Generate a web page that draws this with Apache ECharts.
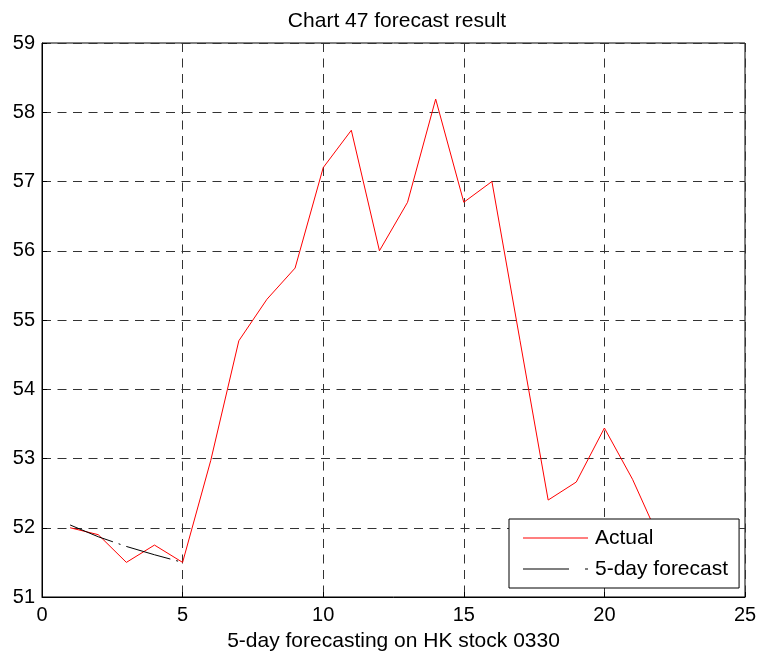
<!DOCTYPE html>
<html>
<head>
<meta charset="utf-8">
<script src="https://cdn.jsdelivr.net/npm/echarts@6/dist/echarts.min.js"></script>
<style>html,body{margin:0;padding:0;background:#fff}#c{width:761px;height:661px}</style>
</head>
<body>
<div id="c"></div>
<script>
const actualX = [1,2,3,4,5,6,7,8,9,10,11,12,13,14,15,16,17,18,19,20,21,22];
const actualY = [52.0,51.9,51.5,51.75,51.5,52.97,54.7,55.3,55.75,57.2,57.74,56.0,56.7,58.19,56.7,57.0,54.7,52.4,52.66,53.44,52.7,51.8];
const forecastX = [1,2,3,4,5];
const forecastY = [52.04,51.87,51.73,51.61,51.5];
const xTicks = {min:0, max:25, interval:5};
const yTicks = {min:51, max:59, interval:1};

const font = 'Liberation Sans, Arial, sans-serif';
const chart = echarts.init(document.getElementById('c'));
chart.setOption({
  animation:false,
  backgroundColor:'#fff',
  title:{text:'Chart 47 forecast result', left:392, textAlign:'center', top:6,
    textStyle:{fontFamily:font, fontSize:21, fontWeight:'normal', color:'#000'}},
  grid:{left:42, right:16, top:43, bottom:64, show:true, borderColor:'#000', borderWidth:1, backgroundColor:'transparent'},
  legend:{orient:'vertical', left:509, top:519, padding:[8,11,8,14], itemGap:9,
    itemWidth:65, itemHeight:1, borderColor:'#000', borderWidth:1, backgroundColor:'#fff',
    textStyle:{fontFamily:font, fontSize:21, color:'#000', lineHeight:22, padding:[0,0,0,2]},
    data:[
      {name:'Actual', icon:'path://M0,0h65v1h-65z'},
      {name:'5-day forecast', icon:'path://M0,0h46v1h-46zM62,0h3v1h-3z'}
    ]},
  xAxis:{type:'value', min:xTicks.min, max:xTicks.max, interval:xTicks.interval,
    name:'5-day forecasting on HK stock 0330', nameLocation:'middle', nameGap:34,
    nameTextStyle:{fontFamily:font, fontSize:21, color:'#000'},
    axisLine:{show:true, lineStyle:{color:'#000', width:1}},
    axisTick:{show:true, inside:true, length:5, lineStyle:{color:'#000'}},
    axisLabel:{fontFamily:font, fontSize:20, color:'#000', margin:8},
    splitLine:{show:true, lineStyle:{color:'#333', type:[9,6.5], width:1}}},
  yAxis:{type:'value', min:yTicks.min, max:yTicks.max, interval:yTicks.interval,
    axisLine:{show:true, lineStyle:{color:'#000', width:1}},
    axisTick:{show:true, inside:true, length:5, lineStyle:{color:'#000'}},
    axisLabel:{fontFamily:font, fontSize:20, color:'#000', margin:7},
    splitLine:{show:true, lineStyle:{color:'#333', type:[9,6.5], width:1}}},
  series:[
    {name:'Actual', type:'line', symbol:'none', z:2,
      lineStyle:{color:'#ff0000', width:1}, itemStyle:{color:'#ff0000'},
      data:actualX.map((x,i)=>[x, actualY[i]])},
    {name:'5-day forecast', type:'line', symbol:'none', z:3,
      lineStyle:{color:'#000', width:1, type:[46,6,2,6]}, itemStyle:{color:'#000'},
      data:forecastX.map((x,i)=>[x, forecastY[i]])}
  ]
});
</script>
</body>
</html>
